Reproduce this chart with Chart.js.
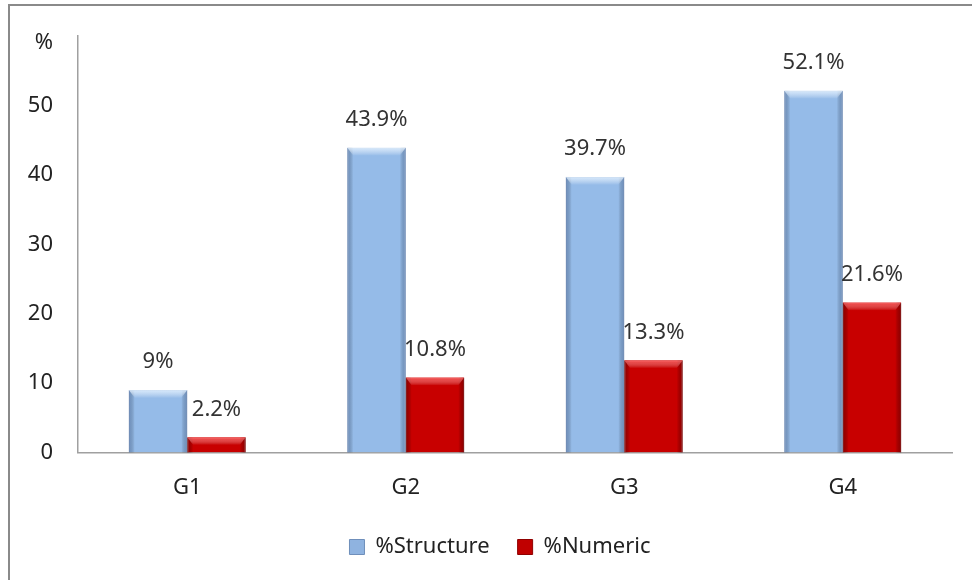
<!DOCTYPE html>
<html>
<head>
<meta charset="utf-8">
<script src="https://cdn.jsdelivr.net/npm/chart.js@4/dist/chart.umd.min.js"></script>
<style>
  body { margin: 0; background: #fff; }
  #frame {
    position: absolute; left: 8px; top: 4px; width: 964px; height: 576px;
    border-left: 2px solid #8a8a8a; border-top: 2px solid #8a8a8a;
    background: #fff;
  }
  #wrap { position: absolute; left: 0; top: 0; width: 962px; height: 574px; }
</style>
</head>
<body>
<div id="frame"><div id="wrap"><canvas id="myChart"></canvas></div></div>
<script>
const categories = ['G1', 'G2', 'G3', 'G4'];
const structureValues = [9, 43.9, 39.7, 52.1];
const numericValues = [2.2, 10.8, 13.3, 21.6];
const valueLabels = [
  ['9%', '43.9%', '39.7%', '52.1%'],
  ['2.2%', '10.8%', '13.3%', '21.6%']
];
const FONT = '"Noto Sans", sans-serif';

// excel-ish bevel drawn on top of the plain bars
const bevelPlugin = {
  id: 'bevel',
  afterDatasetsDraw(chart) {
    const ctx = chart.ctx;
    const tops = ['rgba(225,240,255,0.85)', 'rgba(255,80,80,0.8)'];
    const edges = ['rgba(70,100,150,0.45)', 'rgba(90,0,0,0.5)'];
    ctx.save();
    chart.data.datasets.forEach((ds, i) => {
      chart.getDatasetMeta(i).data.forEach((bar) => {
        const x0 = bar.x - bar.width / 2, x1 = bar.x + bar.width / 2;
        const y0 = bar.y, y1 = bar.base;
        const b = 6;
        // side shading
        let g = ctx.createLinearGradient(x0, 0, x0 + b, 0);
        g.addColorStop(0, edges[i]); g.addColorStop(1, 'rgba(0,0,0,0)');
        ctx.fillStyle = g; ctx.fillRect(x0, y0, b, y1 - y0);
        g = ctx.createLinearGradient(x1 - b, 0, x1, 0);
        g.addColorStop(0, 'rgba(0,0,0,0)'); g.addColorStop(1, edges[i]);
        ctx.fillStyle = g; ctx.fillRect(x1 - b, y0, b, y1 - y0);
        // top bevel
        const h = Math.min(8, (y1 - y0) / 2);
        g = ctx.createLinearGradient(0, y0, 0, y0 + h);
        g.addColorStop(0, tops[i]); g.addColorStop(1, 'rgba(255,255,255,0)');
        ctx.fillStyle = g;
        ctx.beginPath();
        ctx.moveTo(x0, y0); ctx.lineTo(x1, y0);
        ctx.lineTo(x1 - b, y0 + h); ctx.lineTo(x0 + b, y0 + h);
        ctx.closePath(); ctx.fill();
      });
    });
    ctx.restore();
  }
};

const valueLabelPlugin = {
  id: 'valueLabels',
  afterDatasetsDraw(chart) {
    const ctx = chart.ctx;
    ctx.save();
    ctx.font = '22px ' + FONT;
    ctx.fillStyle = '#333';
    ctx.textAlign = 'center';
    ctx.textBaseline = 'middle';
    chart.data.datasets.forEach((ds, i) => {
      chart.getDatasetMeta(i).data.forEach((bar, j) => {
        ctx.fillText(valueLabels[i][j], bar.x, bar.y - 28);
      });
    });
    // unit label sits just under the top of the value axis
    const y = chart.scales.y;
    ctx.textAlign = 'right';
    ctx.fillStyle = '#222';
    ctx.fillText('%', y.right - 25, y.getPixelForValue(60) + 7);
    ctx.restore();
  }
};

// legend in the original sits a little right of centre
const legendShift = {
  id: 'legendShift',
  afterLayout(chart) {
    chart.legend.left += 19;
    chart.legend.right += 19;
  }
};

new Chart(document.getElementById('myChart').getContext('2d'), {
  type: 'bar',
  data: {
    labels: categories,
    datasets: [{
      label: '%Structure',
      data: structureValues,
      backgroundColor: '#95bbe8',
      borderColor: '#7a9cc8',
      borderWidth: 1
    }, {
      label: '%Numeric',
      data: numericValues,
      backgroundColor: '#c80000',
      borderColor: '#9c0000',
      borderWidth: 1
    }]
  },
  options: {
    responsive: true,
    maintainAspectRatio: false,
    animation: false,
    layout: { padding: { left: 0, right: 20, top: 4, bottom: 12 } },
    datasets: { bar: { categoryPercentage: 0.535, barPercentage: 1 } },
    plugins: {
      tooltip: { enabled: false },
      legend: {
        position: 'bottom',
        labels: {
          font: { size: 22, family: FONT },
          color: '#222',
          boxWidth: 15, boxHeight: 15,
          padding: 28,
          generateLabels(chart) {
            const cols = ['#8fb3e0', '#c00000'];
            return chart.data.datasets.map((ds, i) => ({
              text: ds.label, fillStyle: cols[i], strokeStyle: i ? '#900000' : '#6f8fbb',
              lineWidth: 1, datasetIndex: i, fontColor: '#222'
            }));
          }
        }
      }
    },
    scales: {
      x: {
        afterFit: (s) => { s.height -= 15; },
        grid: { display: false, drawTicks: false },
        border: { color: '#a0a0a0', width: 1.5 },
        ticks: { font: { size: 22, family: FONT }, color: '#222', padding: 22 }
      },
      y: {
        min: 0, max: 60,
        afterFit: (s) => { s.width = 68; s.paddingTop = 30; s.paddingBottom = 0; },
        grid: { display: false, drawTicks: false },
        border: { color: '#a0a0a0', width: 1.5 },
        ticks: {
          stepSize: 10,
          padding: 25,
          font: { size: 22, family: FONT },
          color: '#222',
          callback: (v) => v === 60 ? '' : v
        }
      }
    }
  },
  plugins: [bevelPlugin, valueLabelPlugin, legendShift]
});
</script>
</body>
</html>
